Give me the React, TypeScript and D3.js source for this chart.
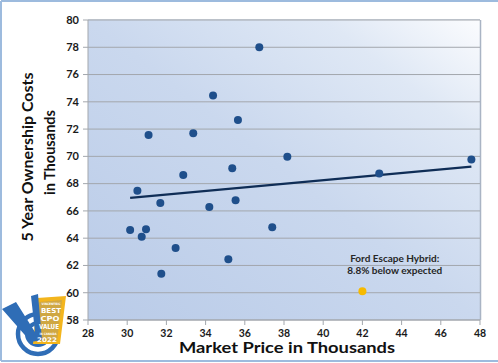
import React, { useEffect } from "react";
import * as d3 from "d3";

const width = 498;
const height = 363;
const margin = { top: 20, right: 18, bottom: 43, left: 88 };

// market price (thousands) and 5-year ownership cost (thousands)
const priceValues = [
  30.15, 30.52, 30.74, 30.96, 31.09, 31.69, 31.74, 32.47, 32.86, 33.37, 34.19,
  34.38, 35.16, 35.36, 35.53, 35.65, 36.74, 37.4, 38.17, 42.86, 47.56,
];
const costValues = [
  64.6, 67.48, 64.1, 64.65, 71.56, 66.58, 61.4, 63.28, 68.63, 71.69, 66.28,
  74.47, 62.45, 69.12, 66.78, 72.66, 78.0, 64.8, 69.98, 68.75, 69.77,
];
const highlightPrice = [42.0];
const highlightCost = [60.1];
const trendPrice = [30.15, 47.56];
const trendCost = [66.95, 69.25];

const xTicks = [28, 30, 32, 34, 36, 38, 40, 42, 44, 46, 48];
const yTicks = [58, 60, 62, 64, 66, 68, 70, 72, 74, 76, 78, 80];

const font = "Lato, 'Open Sans', sans-serif";

const Badge = () => (
  <g>
    {/* target rings */}
    <circle cx={38} cy={334} r={20} fill="none" stroke="#2f6db6" strokeWidth={4.5} />
    <circle cx={38} cy={334} r={11} fill="none" stroke="#2f6db6" strokeWidth={4} />
    <circle cx={38} cy={334} r={4} fill="#2f6db6" />
    {/* gold banner */}
    <path d="M37,298 L66,296 L60,344 L33,344 Z" fill="#f3b51d" />
    <path d="M39,302 L62,300 L57,341 L35,341 Z" fill="#8c8c8c" opacity={0.35} />
    {/* check mark */}
    <path d="M2,309 L16,302 L35,332 L31,296 L38,294 L42,340 L31,342 Z" fill="#2f6db6" />
    <g fill="#fff" fontFamily="'DejaVu Sans Condensed', 'Liberation Sans Narrow', sans-serif" fontWeight="bold" textAnchor="middle">
      <text x={51} y={305} fontSize={3.2} textLength={19} lengthAdjust="spacingAndGlyphs">VINCENTRIC</text>
      <text x={51} y={313} fontSize={6.8} textLength={20} lengthAdjust="spacingAndGlyphs">BEST</text>
      <text x={50} y={321} fontSize={6.8} textLength={19} lengthAdjust="spacingAndGlyphs">CPO</text>
      <text x={49} y={329} fontSize={6.8} textLength={20} lengthAdjust="spacingAndGlyphs">VALUE</text>
      <text x={48} y={334.5} fontSize={3.2} textLength={17} lengthAdjust="spacingAndGlyphs">IN CANADA</text>
      <text x={47} y={342} fontSize={6.3} textLength={20} lengthAdjust="spacingAndGlyphs">2022</text>
    </g>
  </g>
);

export default function App() {
  useEffect(() => {
    document.body.style.margin = "0";
  }, []);

  const x = d3
    .scaleLinear()
    .domain([28, 48])
    .range([margin.left, width - margin.right]);
  const y = d3
    .scaleLinear()
    .domain([58, 80])
    .range([height - margin.bottom, margin.top]);

  const line = d3
    .line<number>()
    .x((d) => x(trendPrice[d]))
    .y((d) => y(trendCost[d]));

  const x0 = x(28);
  const x1 = x(48);
  const y0 = y(58);
  const y1 = y(80);

  return (
    <svg width={width} height={height} style={{ display: "block" }}>
      <defs>
        <linearGradient id="plotBg" x1="0" y1="1" x2="1" y2="0">
          <stop offset="0" stopColor="#b9cbe8" />
          <stop offset="0.5" stopColor="#cad8ee" />
          <stop offset="0.8" stopColor="#dfe8f5" />
          <stop offset="1" stopColor="#fbfcfe" />
        </linearGradient>
      </defs>
      <rect width={width} height={height} fill="#fff" />
      {/* outer frame */}
      <line x1={1} y1={1} x2={width} y2={1} stroke="#9dbbde" strokeWidth={2} />
      <line x1={1} y1={1} x2={1} y2={361} stroke="#9dbbde" strokeWidth={2} />
      <line x1={1} y1={361} x2={width} y2={361} stroke="#9dbbde" strokeWidth={2} />

      {/* plot area */}
      <rect x={x0} y={y1} width={x1 - x0} height={y0 - y1} fill="url(#plotBg)" />
      <line x1={x1 + 0.5} y1={y1} x2={x1 + 0.5} y2={y0} stroke="#a9b4c4" strokeWidth={1.5} />
      <line x1={x0} y1={y1 - 0.5} x2={x1} y2={y1 - 0.5} stroke="#d4dbe6" />

      {/* grid lines and y ticks */}
      {yTicks.map((t) => (
        <g key={t}>
          <line x1={x0 - 5} x2={x1} y1={y(t)} y2={y(t)} stroke="#a3a7ad" strokeWidth={1} />
          <text
            x={x0 - 9}
            y={y(t)}
            dy="0.35em"
            textAnchor="end"
            fontFamily={font}
            fontWeight="bold"
            fontSize={11}
            fill="#1a1a1a"
          >
            {t}
          </text>
        </g>
      ))}
      {/* axes */}
      <line x1={x0} x2={x0} y1={y1} y2={y0} stroke="#a3a7ad" />
      <line x1={x0} x2={x1} y1={y0} y2={y0} stroke="#a3a7ad" />
      {xTicks.map((t) => (
        <g key={t}>
          <line x1={x(t)} x2={x(t)} y1={y0} y2={y0 + 5} stroke="#a3a7ad" />
          <text
            x={x(t)}
            y={y0 + 16.5}
            textAnchor="middle"
            fontFamily={font}
            fontWeight="bold"
            fontSize={10.5}
            fill="#1a1a1a"
          >
            {t}
          </text>
        </g>
      ))}

      {/* trend line */}
      <path d={line([0, 1]) || ""} fill="none" stroke="#0f2d56" strokeWidth={2.2} />

      {/* points */}
      {priceValues.map((p, i) => (
        <circle key={i} cx={x(p)} cy={y(costValues[i])} r={4} fill="#1f4f8b" />
      ))}
      {highlightPrice.map((p, i) => (
        <circle key={"h" + i} cx={x(p)} cy={y(highlightCost[i])} r={4} fill="#f7ba00" />
      ))}

      {/* annotation */}
      <g fontFamily={font} fontWeight="bold" fontSize={10} fill="#262626" textAnchor="middle">
        <text x={x(43.65)} y={262}>Ford Escape Hybrid:</text>
        <text x={x(43.65)} y={274}>8.8% below expected</text>
      </g>

      {/* axis titles */}
      <text
        x={287}
        y={353}
        textAnchor="middle"
        fontFamily={font}
        fontWeight="bold"
        fontSize={15.5}
        textLength={216}
        lengthAdjust="spacingAndGlyphs"
        fill="#111"
      >
        Market Price in Thousands
      </text>
      <g transform="translate(0,157) rotate(-90)" fontFamily={font} fontWeight="bold" fontSize={15.5} fill="#111" textAnchor="middle">
        <text x={0} y={33} textLength={169} lengthAdjust="spacingAndGlyphs">5 Year Ownership Costs</text>
        <text x={4.5} y={55} textLength={85} lengthAdjust="spacingAndGlyphs">in Thousands</text>
      </g>

      <Badge />
    </svg>
  );
}
